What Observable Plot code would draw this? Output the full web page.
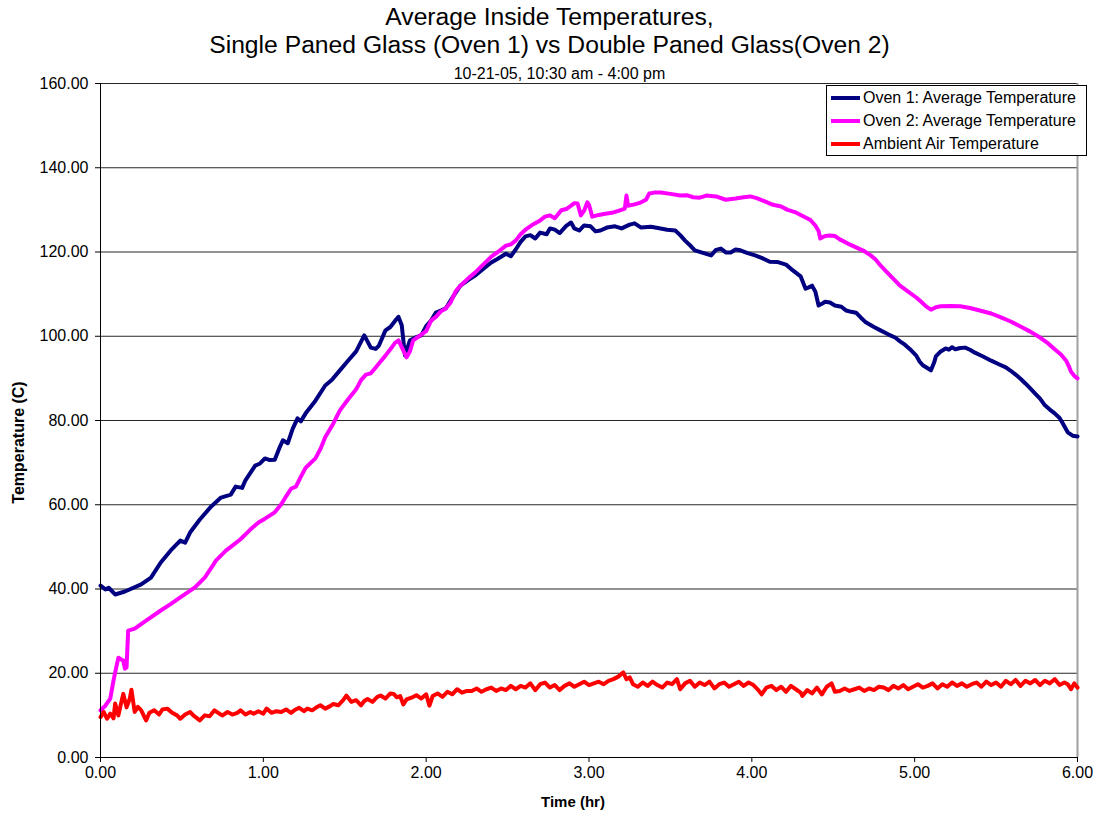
<!DOCTYPE html>
<html>
<head>
<meta charset="utf-8">
<script src="https://cdn.jsdelivr.net/npm/d3@7"></script>
<script src="https://cdn.jsdelivr.net/npm/@observablehq/plot@0.6"></script>
<style>
  html, body { margin: 0; padding: 0; background: #fff; }
  #wrap { position: relative; width: 1099px; height: 817px; font-family: "Liberation Sans", Arial, sans-serif; color: #000; }
  #chart { position: absolute; left: 0; top: 0; }
  #title { position: absolute; left: 0; top: 0; width: 1099px; text-align: center; z-index: 2; }
  #title .t { font-size: 24.7px; line-height: 28px; }
  #title .t1 { padding-top: 3px; }
  #title .s { font-size: 16px; line-height: 18px; padding-top: 6px; padding-left: 20px; }
  #legend { position: absolute; left: 826px; top: 85px; width: 261px; height: 71px; border: 1px solid #000; background: #fff; box-sizing: border-box; z-index: 2; }
  #legend .row { position: absolute; left: 4px; height: 20px; display: flex; align-items: center; font-size: 16px; white-space: nowrap; }
  #legend .sw { width: 29px; height: 4px; margin-right: 3px; }
</style>
</head>
<body>
<div id="wrap">
  <div id="chart"></div>
  <div id="title"></div>
  <div id="legend"></div>
</div>
<script>
const titleLines = ["Average Inside Temperatures,", "Single Paned Glass (Oven 1) vs Double Paned Glass(Oven 2)"];
const subtitle = "10-21-05, 10:30 am - 4:00 pm";
const xLabel = "Time (hr)";
const yLabel = "Temperature (C)";
const xTicks = [0, 1, 2, 3, 4, 5, 6];
const yTicks = [0, 20, 40, 60, 80, 100, 120, 140, 160];
const seriesNames = ["Oven 1: Average Temperature", "Oven 2: Average Temperature", "Ambient Air Temperature"];
const seriesColors = ["#000080", "#ff00ff", "#ff0000"];

// [hour, temperature C]
const oven1Readings = [
  [0.00,40.8],[0.03,39.9],[0.05,40.3],[0.09,38.7],[0.15,39.4],[0.25,41.1],[0.31,42.7],[0.37,46.3],[0.43,49.1],
  [0.49,51.5],[0.52,51.0],[0.55,53.4],[0.61,56.5],[0.68,59.6],[0.74,61.7],[0.80,62.4],[0.83,64.3],[0.87,64.0],[0.89,65.8],
  [0.95,69.3],[0.98,69.8],[1.01,71.0],[1.04,70.6],[1.07,70.7],[1.10,73.6],[1.12,75.3],[1.15,74.6],[1.18,78.0],[1.21,80.5],
  [1.23,79.8],[1.26,81.7],[1.32,84.7],[1.38,88.3],[1.42,89.6],[1.47,91.9],[1.52,94.2],[1.57,96.4],[1.62,100.2],
  [1.66,97.3],[1.69,97.0],[1.71,97.8],[1.75,101.4],[1.78,102.2],[1.81,103.7],[1.83,104.6],[1.85,102.6],[1.87,95.4],
  [1.90,99.0],[1.94,99.8],[1.97,100.2],[2.00,102.4],[2.03,103.7],[2.06,105.6],[2.09,106.1],[2.12,106.6],[2.15,108.5],
  [2.21,112.0],[2.26,113.4],[2.30,114.4],[2.35,116.0],[2.40,117.5],[2.44,118.4],[2.49,119.6],[2.52,119.0],[2.55,120.6],
  [2.58,122.4],[2.61,123.7],[2.64,124.0],[2.67,123.2],[2.70,124.6],[2.74,124.2],[2.76,125.6],[2.79,125.3],[2.82,124.5],
  [2.86,126.2],[2.89,127.0],[2.91,125.6],[2.94,125.1],[2.97,126.3],[3.01,126.1],[3.04,124.9],[3.07,125.1],[3.11,125.8],
  [3.16,126.1],[3.20,125.6],[3.25,126.5],[3.28,126.8],[3.32,125.8],[3.38,126.0],[3.44,125.6],[3.48,125.3],[3.53,125.1],
  [3.56,124.0],[3.59,122.7],[3.62,121.6],[3.65,120.4],[3.70,119.8],[3.75,119.2],[3.78,120.5],[3.81,120.8],[3.84,119.9],
  [3.87,119.9],[3.90,120.6],[3.93,120.4],[3.97,119.8],[4.02,119.2],[4.06,118.6],[4.11,117.7],[4.16,117.6],[4.21,117.0],
  [4.24,116.0],[4.27,115.1],[4.30,114.2],[4.33,111.3],[4.35,111.6],[4.37,112.0],[4.39,110.6],[4.41,107.3],[4.43,107.7],
  [4.45,108.2],[4.48,108.0],[4.51,107.3],[4.55,107.0],[4.58,106.1],[4.61,105.8],[4.64,105.6],[4.67,104.4],[4.70,103.3],
  [4.75,102.2],[4.79,101.4],[4.84,100.4],[4.88,99.7],[4.91,98.8],[4.94,98.0],[4.98,96.6],[5.01,95.4],[5.03,94.0],
  [5.05,93.1],[5.08,92.4],[5.10,91.9],[5.12,93.8],[5.13,95.2],[5.16,96.4],[5.19,97.1],[5.21,96.8],[5.23,97.4],[5.25,96.9],
  [5.28,97.2],[5.31,97.3],[5.34,96.8],[5.37,96.1],[5.42,95.2],[5.47,94.2],[5.52,93.3],[5.56,92.6],[5.59,91.8],[5.62,90.9],
  [5.65,89.9],[5.68,88.8],[5.71,87.6],[5.74,86.4],[5.77,85.2],[5.80,83.6],[5.83,82.6],[5.86,81.7],[5.89,80.6],[5.91,79.3],
  [5.94,77.2],[5.97,76.4],[6.00,76.2]
];
const oven2Readings = [
  [0.00,11.2],[0.03,12.3],[0.06,14.0],[0.08,18.3],[0.10,22.0],[0.11,23.7],[0.13,23.2],[0.14,23.0],[0.15,21.1],[0.16,21.4],
  [0.17,30.1],[0.21,30.6],[0.28,32.5],[0.37,34.9],[0.43,36.4],[0.49,38.0],[0.58,40.4],[0.64,42.7],[0.68,45.0],[0.71,46.8],
  [0.77,49.1],[0.82,50.6],[0.86,51.8],[0.92,54.1],[0.97,55.8],[1.01,56.7],[1.07,58.2],[1.11,60.1],[1.14,62.0],[1.17,63.8],
  [1.20,64.3],[1.23,66.6],[1.26,68.8],[1.32,71.0],[1.35,73.2],[1.38,76.0],[1.43,79.3],[1.47,82.4],[1.52,85.0],[1.57,87.4],
  [1.60,89.6],[1.63,90.9],[1.66,91.2],[1.69,92.6],[1.72,94.0],[1.75,95.4],[1.78,96.9],[1.81,98.5],[1.83,99.0],[1.86,96.6],
  [1.88,95.0],[1.90,96.4],[1.92,99.0],[1.97,100.4],[2.00,101.2],[2.03,103.7],[2.06,104.6],[2.09,105.9],[2.12,106.6],
  [2.15,108.0],[2.18,110.6],[2.21,112.0],[2.26,113.8],[2.30,115.1],[2.35,117.0],[2.40,118.9],[2.44,120.0],[2.49,121.5],
  [2.52,121.8],[2.55,122.7],[2.58,124.2],[2.61,125.3],[2.65,126.4],[2.70,127.5],[2.73,128.4],[2.76,128.7],[2.79,128.0],
  [2.83,129.9],[2.86,130.2],[2.89,131.0],[2.91,131.6],[2.93,131.5],[2.95,128.7],[2.97,129.8],[2.99,131.8],[3.00,131.2],
  [3.02,128.4],[3.06,128.8],[3.10,129.1],[3.15,129.4],[3.19,129.9],[3.22,130.3],[3.23,133.4],[3.24,131.0],[3.28,131.3],
  [3.32,131.8],[3.35,132.4],[3.37,133.9],[3.40,134.1],[3.44,134.1],[3.50,133.8],[3.56,133.4],[3.60,133.5],[3.64,133.0],
  [3.68,132.9],[3.72,133.4],[3.78,133.2],[3.84,132.4],[3.90,132.7],[3.95,133.0],[3.99,133.2],[4.03,132.8],[4.08,132.0],
  [4.13,131.2],[4.18,130.8],[4.22,130.0],[4.27,129.4],[4.30,128.8],[4.33,128.2],[4.36,127.6],[4.39,126.3],[4.41,125.0],
  [4.42,123.2],[4.45,123.8],[4.48,123.9],[4.51,123.8],[4.54,123.0],[4.59,122.0],[4.64,121.1],[4.69,120.2],[4.73,119.2],
  [4.76,118.2],[4.79,116.8],[4.82,115.6],[4.85,114.4],[4.88,113.2],[4.91,112.0],[4.96,110.6],[5.01,109.2],[5.04,108.2],
  [5.07,107.1],[5.10,106.3],[5.13,106.9],[5.16,107.1],[5.22,107.2],[5.28,107.1],[5.34,106.7],[5.40,106.1],[5.47,105.4],
  [5.53,104.5],[5.59,103.5],[5.65,102.3],[5.71,101.1],[5.77,99.7],[5.82,98.3],[5.86,96.9],[5.90,95.6],[5.93,94.2],
  [5.95,92.6],[5.96,91.6],[5.98,90.6],[6.00,90.0]
];
const ambientReadings = [
  [0.00,9.6],[0.02,10.8],[0.04,9.2],[0.06,10.4],[0.08,9.3],[0.09,12.8],[0.11,10.0],[0.13,13.5],[0.14,15.1],[0.16,11.9],
  [0.18,14.0],[0.19,16.1],[0.21,10.8],[0.23,12.0],[0.25,11.2],[0.28,8.8],[0.30,10.6],[0.33,11.2],[0.36,10.2],[0.38,11.4],
  [0.41,11.6],[0.44,10.6],[0.47,10.0],[0.49,9.2],[0.52,10.2],[0.55,10.8],[0.57,10.0],[0.59,9.4],[0.61,8.8],[0.64,10.0],
  [0.67,9.8],[0.70,11.2],[0.73,10.4],[0.75,10.0],[0.78,10.8],[0.81,10.2],[0.84,10.6],[0.86,11.2],[0.89,10.2],[0.92,10.8],
  [0.94,10.4],[0.97,11.0],[1.00,10.4],[1.02,11.6],[1.05,10.6],[1.08,11.0],[1.11,10.8],[1.14,11.4],[1.17,10.6],[1.19,11.2],
  [1.22,11.8],[1.25,11.0],[1.27,11.6],[1.30,11.2],[1.33,12.0],[1.35,12.4],[1.38,11.6],[1.41,12.2],[1.43,12.7],[1.46,12.4],
  [1.49,13.6],[1.51,14.7],[1.54,13.2],[1.57,13.6],[1.60,12.4],[1.62,13.4],[1.64,13.9],[1.67,13.2],[1.70,14.4],[1.72,14.7],
  [1.75,14.0],[1.78,15.2],[1.80,15.1],[1.82,14.3],[1.84,14.6],[1.86,12.6],[1.88,13.8],[1.91,14.2],[1.94,14.8],[1.97,14.0],
  [2.00,15.0],[2.02,12.3],[2.04,14.6],[2.07,15.2],[2.10,14.4],[2.13,15.6],[2.16,15.0],[2.19,16.2],[2.22,15.4],[2.25,15.8],
  [2.28,15.8],[2.31,16.4],[2.34,15.6],[2.37,16.2],[2.40,16.6],[2.43,15.8],[2.46,16.4],[2.49,16.0],[2.52,17.0],[2.55,16.2],
  [2.58,17.0],[2.61,16.6],[2.64,17.6],[2.67,16.0],[2.70,17.4],[2.73,17.8],[2.76,16.6],[2.79,17.2],[2.82,16.0],[2.85,17.0],
  [2.88,17.6],[2.91,16.8],[2.94,17.4],[2.97,18.0],[3.00,17.2],[3.03,17.6],[3.06,18.0],[3.09,17.4],[3.12,18.2],[3.15,18.6],
  [3.18,19.2],[3.21,20.2],[3.23,18.6],[3.25,19.0],[3.27,17.4],[3.30,16.8],[3.33,17.8],[3.36,17.0],[3.39,18.0],[3.42,17.2],
  [3.45,16.6],[3.48,17.8],[3.51,17.4],[3.54,18.6],[3.56,16.2],[3.59,17.6],[3.62,18.2],[3.65,16.8],[3.68,17.8],[3.71,17.2],
  [3.74,18.0],[3.77,16.4],[3.80,17.4],[3.83,17.8],[3.86,16.8],[3.89,17.4],[3.92,18.0],[3.95,17.0],[3.98,17.8],[4.01,17.2],
  [4.04,16.0],[4.06,15.0],[4.09,16.6],[4.12,17.0],[4.15,16.0],[4.18,16.8],[4.21,15.6],[4.24,17.0],[4.27,16.2],[4.30,15.4],
  [4.31,14.6],[4.34,16.0],[4.37,15.2],[4.40,16.6],[4.43,15.0],[4.46,16.8],[4.49,17.6],[4.51,15.6],[4.54,15.8],[4.57,16.4],
  [4.60,15.8],[4.63,16.2],[4.66,16.6],[4.69,15.8],[4.72,16.4],[4.75,16.0],[4.78,16.8],[4.81,16.6],[4.84,16.0],[4.87,17.0],
  [4.90,16.4],[4.93,17.2],[4.96,16.2],[4.99,16.8],[5.02,17.4],[5.05,16.6],[5.08,17.0],[5.11,17.6],[5.14,16.4],[5.17,17.4],
  [5.20,16.8],[5.23,17.8],[5.26,17.0],[5.29,17.6],[5.32,16.8],[5.35,17.4],[5.38,17.8],[5.41,16.8],[5.44,18.0],[5.47,17.2],
  [5.50,17.8],[5.53,16.8],[5.56,18.2],[5.59,17.4],[5.62,18.4],[5.65,17.0],[5.68,18.2],[5.71,17.6],[5.74,18.4],[5.77,17.2],
  [5.80,18.2],[5.83,17.6],[5.86,18.6],[5.89,17.2],[5.92,17.8],[5.94,17.4],[5.96,16.2],[5.98,17.6],[6.00,16.6]
];

// title
const titleEl = document.getElementById("title");
titleLines.forEach((t, i) => {
  const d = document.createElement("div");
  d.className = "t" + (i === 0 ? " t1" : "");
  d.textContent = t;
  titleEl.appendChild(d);
});
const sub = document.createElement("div");
sub.className = "s";
sub.textContent = subtitle;
titleEl.appendChild(sub);

const allSeries = [oven1Readings, oven2Readings, ambientReadings];
const fmt = d => d.toFixed(2);

const chart = Plot.plot({
  width: 1099,
  height: 817,
  marginLeft: 100,
  marginRight: 22,
  marginTop: 83,
  marginBottom: 60,
  style: { fontFamily: "'Liberation Sans', Arial, sans-serif", fontSize: "16px", color: "#000", background: "#fff" },
  x: { domain: [0, 6], label: null },
  y: { domain: [0, 160], label: null },
  marks: [
    Plot.gridY(yTicks, { stroke: "#000", strokeOpacity: 0.85, strokeWidth: 1 }),
    Plot.ruleX([6], { stroke: "#a0a0a0", strokeWidth: 2 }),
    ...allSeries.map((s, i) => Plot.line(s, {
      x: d => d[0], y: d => d[1], stroke: seriesColors[i], strokeWidth: 4,
      strokeLinejoin: "round", strokeLinecap: "round"
    })),
    Plot.ruleX([0], { stroke: "#000" }),
    Plot.ruleY([0], { stroke: "#000" }),
    Plot.axisY(yTicks, { tickFormat: fmt, tickSize: 5, tickPadding: 7, label: null, fontSize: 16 }),
    Plot.axisX(xTicks, { tickFormat: fmt, tickSize: 5, tickPadding: 4, label: null, fontSize: 16 }),
    Plot.text([xLabel], { frameAnchor: "bottom", textAnchor: "middle", dx: -16, dy: 49, fontWeight: "bold", fontSize: 15 }),
    Plot.text([yLabel], { frameAnchor: "left", textAnchor: "middle", dx: -82, dy: 22, rotate: -90, fontWeight: "bold", fontSize: 16 })
  ]
});
document.getElementById("chart").appendChild(chart);

// legend
const legend = document.getElementById("legend");
seriesNames.forEach((name, i) => {
  const row = document.createElement("div");
  row.className = "row";
  row.style.top = (2 + i * 23) + "px";
  const sw = document.createElement("div");
  sw.className = "sw";
  sw.style.background = seriesColors[i];
  const lab = document.createElement("span");
  lab.textContent = name;
  row.appendChild(sw);
  row.appendChild(lab);
  legend.appendChild(row);
});
</script>
</body>
</html>
